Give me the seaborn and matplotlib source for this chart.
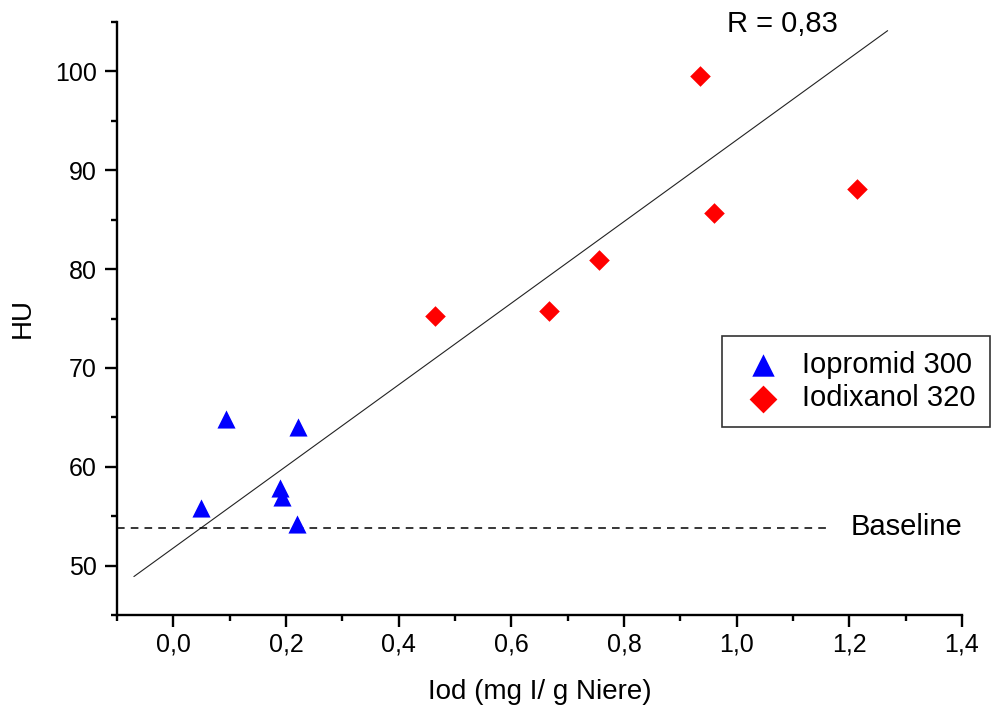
import numpy as np
import pandas as pd
import matplotlib
matplotlib.use("Agg")
import matplotlib.pyplot as plt
import seaborn as sns
from matplotlib.ticker import MultipleLocator, FuncFormatter

# values
iopromid_x = [0.050, 0.093, 0.190, 0.193, 0.220, 0.222]
iopromid_y = [55.8, 64.8, 57.9, 56.9, 54.2, 64.0]
iodixanol_x = [0.465, 0.667, 0.755, 0.935, 0.960, 1.213]
iodixanol_y = [75.3, 75.8, 80.9, 99.5, 85.7, 88.1]
series_names = ["Iopromid 300", "Iodixanol 320"]

# fitted line shown in the chart (slope / intercept / x range)
fit_slope = 41.28
fit_intercept = 51.78
fit_x = [-0.070, 1.268]
fit_r = "R = 0,83"

baseline_y = 53.8
baseline_x = [-0.1, 1.17]

df_a = pd.DataFrame({"x": iopromid_x, "y": iopromid_y, "group": series_names[0]})
df_b = pd.DataFrame({"x": iodixanol_x, "y": iodixanol_y, "group": series_names[1]})

sns.set_style("ticks", {"axes.edgecolor": "black", "text.color": "black",
                        "xtick.color": "black", "ytick.color": "black",
                        "axes.labelcolor": "black"})
plt.rcParams["font.family"] = ["Liberation Sans", "DejaVu Sans"]

fig = plt.figure(figsize=(9.95, 7.09), dpi=100)
ax = fig.add_axes([117 / 995, 1 - 615 / 709, (962 - 117) / 995, (615 - 22) / 709])

sns.scatterplot(data=df_a, x="x", y="y", marker="^", color="#0000ff", s=170,
                linewidth=0, ax=ax, zorder=3, label=series_names[0])
sns.scatterplot(data=df_b, x="x", y="y", marker="D", color="#ff0000", s=110,
                linewidth=0, ax=ax, zorder=3, label=series_names[1])

# regression line
fx = np.array(fit_x)
ax.plot(fx, fit_intercept + fit_slope * fx, color="#222222", lw=0.8, zorder=2)

# baseline
ax.plot(baseline_x, [baseline_y, baseline_y], color="black", lw=1.1,
        linestyle=(0, (5, 4)), zorder=2)
ax.text(1.203, baseline_y + 0.1, "Baseline", fontsize=21, ha="left", va="center")
ax.text(1.082, 104.8, fit_r, fontsize=21, ha="center", va="center", clip_on=False)

ax.set_xlim(-0.1, 1.4)
ax.set_ylim(45, 105)
ax.xaxis.set_major_locator(MultipleLocator(0.2))
ax.xaxis.set_minor_locator(MultipleLocator(0.1))
ax.yaxis.set_major_locator(MultipleLocator(10))
ax.yaxis.set_minor_locator(MultipleLocator(5))
ax.xaxis.set_major_formatter(FuncFormatter(lambda v, p: f"{v:.1f}".replace(".", ",")))
ax.yaxis.set_major_formatter(FuncFormatter(lambda v, p: f"{v:.0f}"))

sns.despine(ax=ax)
for side in ["left", "bottom"]:
    ax.spines[side].set_linewidth(1.7)
ax.tick_params(which="major", length=8.5, width=1.7, direction="out", labelsize=18)
ax.tick_params(which="minor", length=4.5, width=1.7, direction="out")
ax.tick_params(axis="y", pad=6)
ax.tick_params(axis="x", pad=4)

ax.set_xlabel("Iod (mg I/ g Niere)", fontsize=20, labelpad=16)
ax.set_ylabel("HU", fontsize=20, labelpad=14)

handles, labels = ax.get_legend_handles_labels()
leg = ax.legend(handles, labels, loc="upper left",
                bbox_to_anchor=(722 / 995, 1 - 336 / 709), bbox_transform=fig.transFigure,
                fontsize=21, frameon=True, fancybox=False, edgecolor="black",
                borderpad=0.5, handletextpad=0.45, labelspacing=0.2,
                borderaxespad=0, handlelength=1.8)
leg.legend_handles[0].set_sizes([260])
leg.legend_handles[1].set_sizes([200])
leg.get_frame().set_linewidth(1.2)

fig.savefig("out.png", dpi=100)
